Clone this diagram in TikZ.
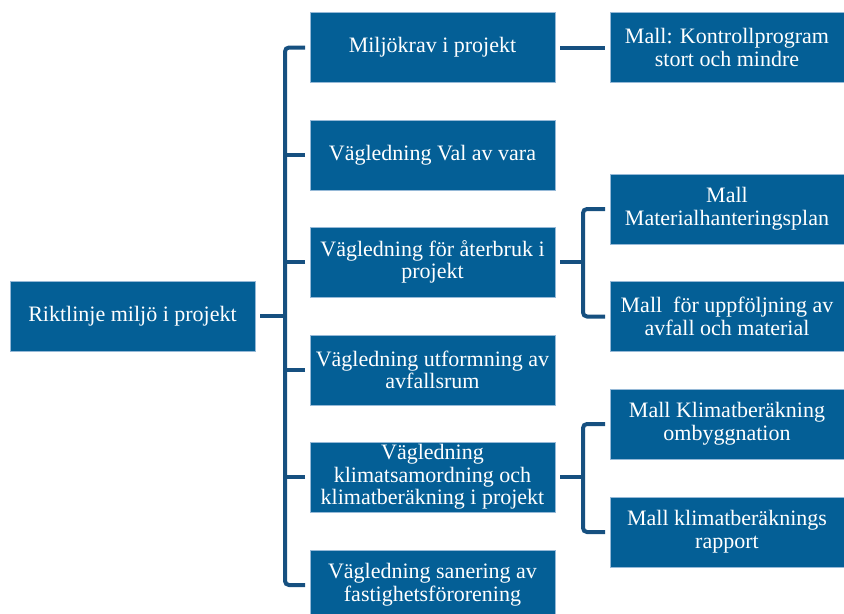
\documentclass[tikz,border=0pt]{standalone}
\usepackage{fontspec}
\setmainfont{Liberation Serif}
\definecolor{boxblue}{RGB}{4,95,150}
\definecolor{boxedge}{RGB}{150,185,215}
\definecolor{linkblue}{RGB}{22,80,128}
\begin{document}
\begin{tikzpicture}[
  x=0.75pt,y=-0.75pt,
  font=\fontsize{16.5}{17}\selectfont,
  box/.style={rectangle,draw=boxedge,line width=0.5pt,fill=boxblue,text=white,align=center,
    minimum width=183.75pt,minimum height=52.5pt,inner sep=1pt,outer sep=3.75pt},
  tmpl/.style={box,minimum width=175.5pt},
  link/.style={draw=linkblue,line width=3pt},
]
\useasboundingbox (0,0) rectangle (844,614);
\clip (0,0) rectangle (844,614);
% root and guides
\node[box] (root) at (132.5,316) {Riktlinje miljö i projekt};
\node[box] (m1) at (432.5,47.5) {Miljökrav i projekt};
\node[box] (m2) at (432.5,155) {Vägledning Val av vara};
\node[box] (m3) at (432.5,262) {Vägledning för återbruk i\\projekt};
\node[box] (m4) at (432.5,370) {Vägledning utformning av\\avfallsrum};
\node[box] (m5) at (432.5,477) {Vägledning\\klimatsamordning och\\klimatberäkning i projekt};
\node[box] (m6) at (432.5,585) {Vägledning sanering av\\fastighetsförorening};
% templates
\node[tmpl] (r1) at (727,47.5) {Mall: Kontrollprogram\\stort och mindre};
\node[tmpl] (r2) at (727,209) {Mall\\Materialhanteringsplan};
\node[tmpl] (r3) at (727,316.5) {Mall~ för uppföljning av\\avfall och material};
\node[tmpl] (r4) at (727,424) {Mall Klimatberäkning\\ombyggnation};
\node[tmpl] (r5) at (727,532) {Mall klimatberäknings\\rapport};
% connectors
\coordinate (trunk) at (285,316);
\coordinate (fork) at (583,0);
\draw[link] (root.east) -- (trunk);
\draw[link,rounded corners=3pt] (m1.west) -| (trunk |- m6.west) -- (m6.west);
\foreach \i in {2,...,5} \draw[link] (m\i.west) -- (trunk |- m\i.west);
\draw[link] (m1.east) -- (r1.west);
\draw[link] (m3.east) -- (fork |- m3.east);
\draw[link,rounded corners=3pt] (r2.west) -| (fork |- r3.west) -- (r3.west);
\draw[link] (m5.east) -- (fork |- m5.east);
\draw[link,rounded corners=3pt] (r4.west) -| (fork |- r5.west) -- (r5.west);
\end{tikzpicture}
\end{document}
